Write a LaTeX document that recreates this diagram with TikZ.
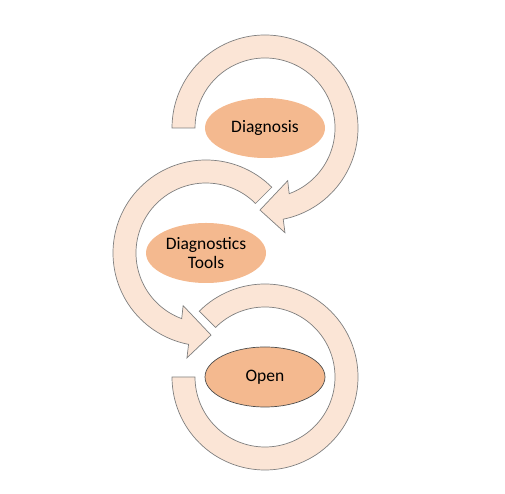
\documentclass[tikz,border=0pt]{standalone}
\usepackage{fontspec}
\setmainfont{Carlito}
\usetikzlibrary{shapes.geometric}
\definecolor{arcfill}{HTML}{FBE5D6}
\definecolor{ovalfill}{HTML}{F4B98F}
\definecolor{arcline}{HTML}{7F7F7F}
\begin{document}
\begin{tikzpicture}[x=1pt,y=1pt,
  band/.style={fill=arcfill,draw=arcline,line width=0.7pt,line join=miter},
  oval/.style={ellipse,fill=ovalfill,minimum width=120pt,minimum height=60pt,inner sep=0pt,
    align=center,font=\fontsize{17.5}{18.5}\selectfont}]
\useasboundingbox (0,0) rectangle (505,494);
\begin{scope}[shift={(265,366)}]
\draw[band] (180:93) arc(180:-78.7:93) -- (-79.2:106.6) -- (-93.5:82.2) -- (-66.7:57.4) -- (-69.8:70) arc(-69.8:180:70) -- cycle;
\end{scope}
\begin{scope}[shift={(206,241)}]
\draw[band] (45:93) arc(45:259.2:93) -- (259.7:106.6) -- (273.5:82.2) -- (246.5:57.4) -- (249.7:70) arc(249.7:45:70) -- cycle;
\end{scope}
\begin{scope}[shift={(265,117)}]
\draw[band] (135:93) arc(135:-180:93) -- (180:70) arc(-180:135:70) -- cycle;
\end{scope}
\node[oval] (diag) at (265,366) {Diagnosis};
\node[oval] (tools) at (206,241) {Diagnostics\\Tools};
\node[oval,draw=black!70,line width=0.7pt] (open) at (265,117) {Open};
\end{tikzpicture}
\end{document}
